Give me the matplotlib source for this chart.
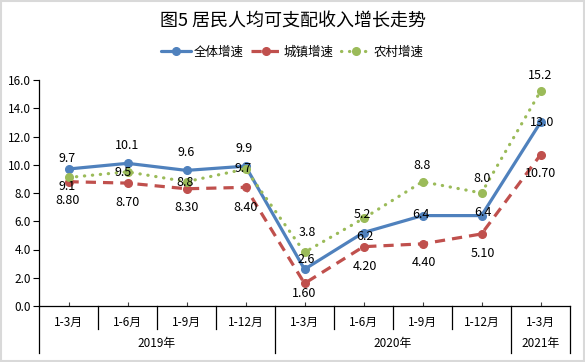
import matplotlib
matplotlib.use("Agg")
import matplotlib.pyplot as plt
from matplotlib.patches import Rectangle
from matplotlib.lines import Line2D
from matplotlib.ticker import FixedLocator

plt.rcParams['font.family'] = ['Noto Sans CJK SC', 'DejaVu Sans']

title = "图5 居民人均可支配收入增长走势"
categories = ["1-3月", "1-6月", "1-9月", "1-12月", "1-3月", "1-6月", "1-9月", "1-12月", "1-3月"]
years = ["2019年", "2020年", "2021年"]
year_counts = [4, 4, 1]
series_names = ["全体增速", "城镇增速", "农村增速"]
overall = [9.7, 10.1, 9.6, 9.9, 2.6, 5.2, 6.4, 6.4, 13.0]
urban = [8.80, 8.70, 8.30, 8.40, 1.60, 4.20, 4.40, 5.10, 10.70]
rural = [9.1, 9.5, 8.8, 9.7, 3.8, 6.2, 8.8, 8.0, 15.2]
yticks = [0, 2, 4, 6, 8, 10, 12, 14, 16]

blue, red, green = "#4F81BD", "#C0504D", "#9BBB59"

fig = plt.figure(figsize=(5.85, 3.62), dpi=100)
ax = fig.add_axes([39/585, 56/362, (570-39)/585, (306-80)/362])

x = list(range(len(categories)))
ax.plot(x, overall, color=blue, lw=2.3, marker='o', ms=5.5, zorder=3, label=series_names[0],
        solid_capstyle='round')
ax.plot(x, urban, color=red, lw=2.3, ls=(0, (3.2, 2.2)), marker='o', ms=5.5, zorder=4,
        label=series_names[1])
ax.plot(x, rural, color=green, lw=2.3, ls=(0, (0.1, 2.4)), dash_capstyle='round', marker='o',
        ms=5.5, zorder=5, label=series_names[2])

off_b = [(-1, 10), (0, 18), (0, 18), (-1, 18), (2, 10), (-1, 18), (-2, 1), (1, 3), (2, 0)]
off_g = [(-1, -9), (-4, -1), (-1, -1), (-2, 0), (3, 20), (1, -18), (0, 16), (1, 15), (0, 16)]
off_r = [(-1, -19), (0, -19), (0, -19), (0, -20), (0, -10), (1, -20), (1, -19), (1, -20), (0, -19)]

fs = 9
for i in x:
    ax.annotate(f"{overall[i]:.1f}", (i, overall[i]), xytext=off_b[i], textcoords='offset pixels',
                ha='center', va='center', fontsize=fs, color='#000000', zorder=10)
    ax.annotate(f"{urban[i]:.2f}", (i, urban[i]), xytext=off_r[i], textcoords='offset pixels',
                ha='center', va='center', fontsize=fs, color='#000000', zorder=10)
    ax.annotate(f"{rural[i]:.1f}", (i, rural[i]), xytext=off_g[i], textcoords='offset pixels',
                ha='center', va='center', fontsize=fs, color='#000000', zorder=10)

ax.set_xlim(-0.5, len(categories) - 0.5)
ax.set_ylim(0, 16)
ax.set_yticks(yticks)
ax.set_yticklabels([f"{v:.1f}" for v in yticks], fontsize=8.5)
ax.tick_params(axis='y', direction='out', length=4, width=0.8, pad=2)
ax.xaxis.set_major_locator(FixedLocator(x))
ax.set_xticklabels([])
ax.tick_params(axis='x', direction='in', length=3, width=0.8, color='#404040')
for s in ['top', 'right']:
    ax.spines[s].set_visible(False)
ax.spines['left'].set_linewidth(0.9)
ax.spines['bottom'].set_linewidth(0.9)

tr = ax.get_xaxis_transform()
for i, c in enumerate(categories):
    ax.annotate(c, (i, 0), xycoords=tr, xytext=(0, -16), textcoords='offset pixels',
                ha='center', va='center', fontsize=8.5)
short = 23 / 226
long_ = 47 / 226
bounds = [-0.5]
acc = -0.5
for n in year_counts:
    acc += n
    bounds.append(acc)
for k in range(len(categories) + 1):
    b = k - 0.5
    ln = long_ if b in bounds else short
    ax.add_line(Line2D([b, b], [0, -ln], transform=tr, color='black', lw=0.9, clip_on=False))
start = -0.5
for yname, n in zip(years, year_counts):
    center = start + n / 2
    ax.annotate(yname, (center, 0), xycoords=tr, xytext=(0, -37), textcoords='offset pixels',
                ha='center', va='center', fontsize=8.5)
    start += n

fig.text(0.5, 1 - 22/362, title, ha='center', va='center', fontsize=13, fontweight='light')
handles, labels = ax.get_legend_handles_labels()
fig.legend(handles, labels, loc='center', bbox_to_anchor=(292/585, 1 - 52/362), ncol=3,
           frameon=False, fontsize=fs, handlelength=2.4, handletextpad=0.2, columnspacing=0.6)

fig.add_artist(Rectangle((0.002, 0.003), 0.996, 0.994, transform=fig.transFigure, fill=False,
                         edgecolor='#d9d9d9', lw=1.5))

fig.savefig("out.png", dpi=100)
